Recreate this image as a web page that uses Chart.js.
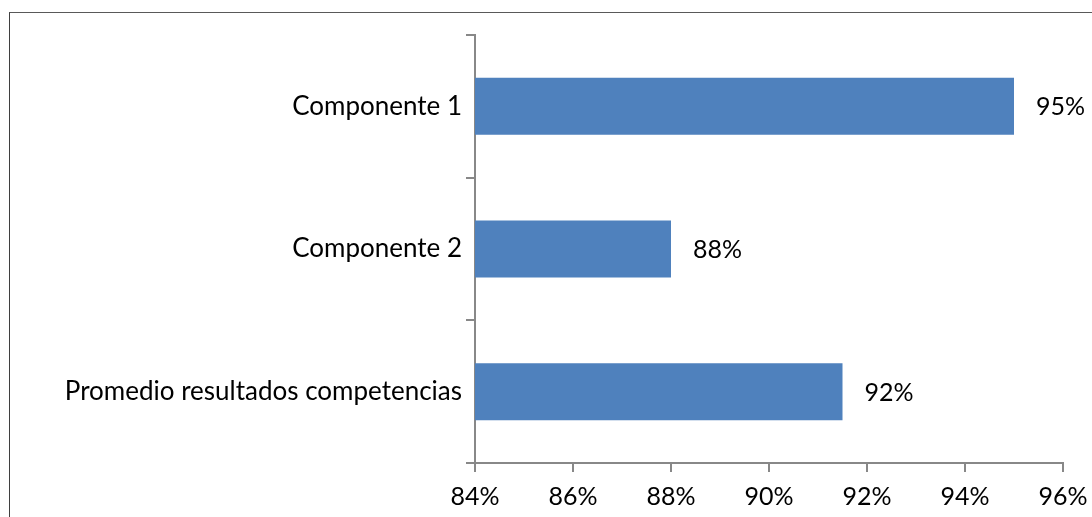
<!DOCTYPE html>
<html>
<head>
<meta charset="utf-8">
<script src="https://cdn.jsdelivr.net/npm/chart.js@4.4.1/dist/chart.umd.min.js"></script>
<style>
  html, body { margin: 0; padding: 0; background: #fff; overflow: hidden; }
  #wrap { position: relative; width: 1092px; height: 517px; }
  #frame { position: absolute; left: 9px; top: 12px; width: 1200px; height: 600px;
           border-left: 1.5px solid #3f3f3f; border-top: 1.5px solid #595959; }
  canvas { position: absolute; left: 0; top: 0; }
</style>
</head>
<body>
<div id="wrap">
  <div id="frame"></div>
  <canvas id="c" width="1092" height="517"></canvas>
</div>
<script>
const categories = ["Componente 1", "Componente 2", "Promedio resultados competencias"];
const values = [95, 88, 91.5];
const xTicks = [84, 86, 88, 90, 92, 94, 96];

const FONT = "Lato, 'Open Sans', sans-serif";

const barLabels = {
  id: 'barLabels',
  afterDatasetsDraw(chart) {
    const ctx = chart.ctx;
    const meta = chart.getDatasetMeta(0);
    ctx.save();
    ctx.font = "25px " + FONT;
    ctx.fillStyle = "#000";
    ctx.textAlign = "left";
    ctx.textBaseline = "middle";
    meta.data.forEach((bar, i) => {
      ctx.fillText(Math.round(values[i]) + "%", bar.x + 22, bar.y + 1);
    });
    ctx.restore();
  }
};

new Chart(document.getElementById('c'), {
  type: 'bar',
  data: {
    labels: categories,
    datasets: [{
      data: values,
      backgroundColor: '#4F81BD',
      borderWidth: 0,
      categoryPercentage: 0.8,
      barPercentage: 0.5
    }]
  },
  options: {
    indexAxis: 'y',
    responsive: false,
    animation: false,
    layout: { padding: { top: 35, right: 29, left: 0, bottom: 0 } },
    plugins: { legend: { display: false }, tooltip: { enabled: false } },
    scales: {
      x: {
        min: 84, max: 96,
        afterBuildTicks(scale) { scale.ticks = xTicks.map(v => ({ value: v })); },
        afterFit(scale) { scale.height = 54; scale.paddingRight = 0; scale.paddingLeft = 0; },
        ticks: {
          callback: v => v + '%',
          color: '#000',
          font: { family: FONT, size: 25 },
          padding: 10,
          maxRotation: 0
        },
        grid: { drawOnChartArea: false, drawTicks: true, tickLength: 9, color: '#888', lineWidth: 2 },
        border: { color: '#888', width: 2 }
      },
      y: {
        offset: true,
        afterFit(scale) { scale.width = 475; },
        ticks: {
          color: '#000',
          font: { family: FONT, size: 26 },
          padding: 4
        },
        grid: { offset: true, drawOnChartArea: false, drawTicks: true, tickLength: 9, color: '#888', lineWidth: 2 },
        border: { color: '#888', width: 2 }
      }
    }
  },
  plugins: [barLabels]
});
</script>
</body>
</html>
